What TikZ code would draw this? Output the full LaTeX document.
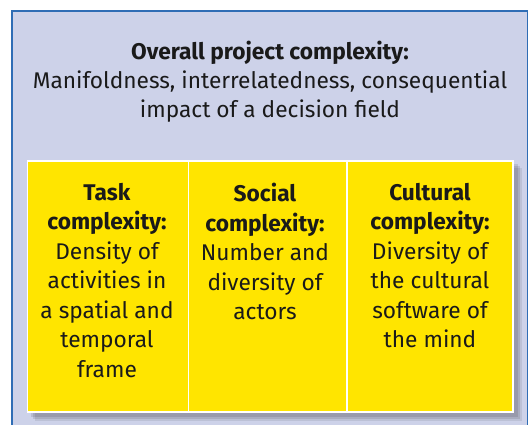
\documentclass[tikz,border=0pt]{standalone}
\usepackage{fontspec}
\setmainfont{Fira Sans}
\usetikzlibrary{shadows}
\definecolor{lav}{HTML}{CDD2E9}
\definecolor{bordblue}{HTML}{2F6DB5}
\definecolor{ylw}{HTML}{FFE500}
\definecolor{txt}{HTML}{1A1A1A}
\tikzset{
  cell/.style={fill=ylw, draw=white, line width=1.5pt},
  celltext/.style={anchor=north, align=center, text=txt, font=\fontsize{22.7}{29.5}\selectfont, inner sep=0pt},
}
\begin{document}
\begin{tikzpicture}[x=1pt,y=-1pt]
\useasboundingbox (0,0) rectangle (530,424);
\clip (0,0) rectangle (530,424);
\fill[white] (0,0) rectangle (530,424);
\draw[fill=lav, draw=bordblue, line width=1.6pt] (12,11) rectangle (527.5,440);
\node[anchor=north, align=center, text=txt, font=\fontsize{22.7}{29}\selectfont, inner sep=0pt] (title) at (270,41)
  {\textbf{Overall project complexity:}\\Manifoldness, interrelatedness, consequential\\impact of a decision field};
\fill[black, opacity=0.10] (33,166) rectangle (520,419);
\fill[black, opacity=0.10] (31,164) rectangle (518,417);
\fill[black, opacity=0.08] (35,168) rectangle (522,421);
\draw[cell] (27.5,161) rectangle (188.5,412);
\draw[cell] (188.5,161) rectangle (347,412);
\draw[cell] (347,161) rectangle (513,412);
\node[celltext] (cellA) at (107,183) {\textbf{Task}\\\textbf{complexity:}\\Density of\\activities in\\a spatial and\\temporal\\frame};
\node[celltext] (cellB) at (265,183) {\textbf{Social}\\\textbf{complexity:}\\Number and\\diversity of\\actors};
\node[celltext] (cellC) at (430,183) {\textbf{Cultural}\\\textbf{complexity:}\\Diversity of\\the cultural\\software of\\the mind};
\end{tikzpicture}
\end{document}
